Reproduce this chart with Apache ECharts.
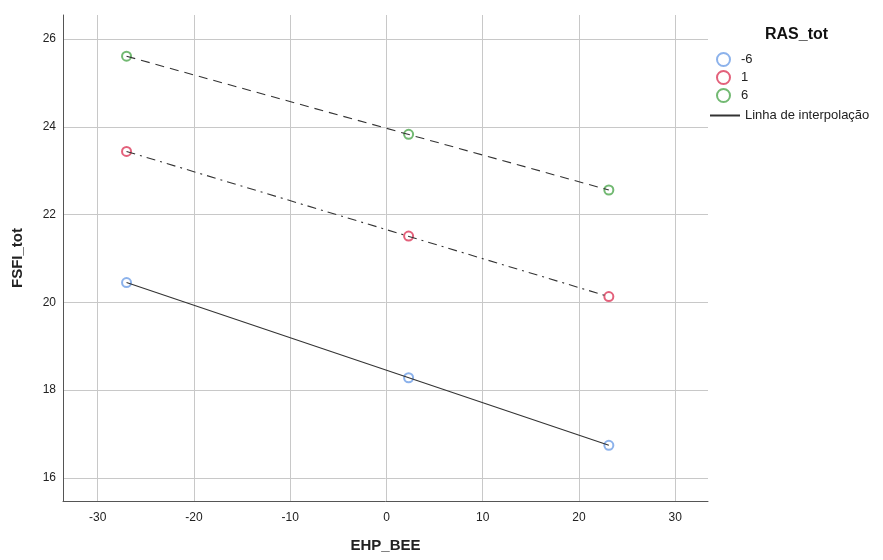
<!DOCTYPE html>
<html><head><meta charset="utf-8">
<script src="https://cdn.jsdelivr.net/npm/echarts@6/dist/echarts.min.js"></script>
<style>html,body{margin:0;padding:0;background:#fff}#c{width:883px;height:560px}</style>
</head><body><div id="c"></div>
<script>
const xValues = [-27, 2.3, 23.1];
const groups = ['-6', '1', '6'];
const fsfiNeg6 = [20.45, 18.28, 16.74];
const fsfi1 = [23.44, 21.51, 20.13];
const fsfi6 = [25.61, 23.83, 22.56];
const xTicks = [-30, -20, -10, 0, 10, 20, 30];
const yTicks = [16, 18, 20, 22, 24, 26];
const lineLabel = 'Linha de interpolação';

const colors = ['#6f9fe6', '#dc3a5a', '#4fa84f'];
const dashes = ['solid', [9, 5, 2, 5], [9, 6]];
const values = [fsfiNeg6, fsfi1, fsfi6];
const font = 'Liberation Sans, Arial, sans-serif';

const series = [];
values.forEach((v, i) => {
  series.push({
    name: groups[i], type: 'scatter', symbol: 'emptyCircle', symbolSize: 9,
    itemStyle: { color: colors[i], borderColor: colors[i], borderWidth: 1.3 },
    data: xValues.map((x, j) => [x, v[j]]), z: 2
  });
});
values.forEach((v, i) => {
  const n = xValues.length - 1;
  series.push({
    name: lineLabel, type: 'line', symbol: 'none', silent: true,
    lineStyle: { color: '#333', width: 1.1, type: dashes[i] },
    itemStyle: { color: '#333' },
    data: [[xValues[0], v[0]], [xValues[n], v[n]]], z: 3
  });
});

const chart = echarts.init(document.getElementById('c'));
chart.setOption({
  animation: false,
  backgroundColor: '#fff',
  textStyle: { fontFamily: font },
  title: { text: 'RAS_tot', left: 760, top: 22, textStyle: { fontFamily: font, fontSize: 16, fontWeight: 'bold', color: '#111' } },
  grid: { left: 63, right: 175, top: 15, bottom: 59, containLabel: false },
  legend: [{
    data: groups, orient: 'vertical', left: 716, top: 52, itemWidth: 13, itemHeight: 13, itemGap: 3,
    icon: 'emptyCircle', itemStyle: { borderWidth: 1.4 }, padding: 0,
    textStyle: { fontFamily: font, fontSize: 13, color: '#222', lineHeight: 13, padding: [0, 0, 0, 6] }, selectedMode: false
  }, {
    data: [{ name: lineLabel, itemStyle: { opacity: 0 } }], orient: 'vertical', left: 709, top: 109, itemWidth: 30, itemHeight: 12, padding: 0,
    textStyle: { fontFamily: font, fontSize: 13, color: '#222', lineHeight: 13 }, selectedMode: false
  }],
  xAxis: {
    type: 'value', min: -33.6, max: 33.4,
    name: 'EHP_BEE', nameLocation: 'middle', nameGap: 37,
    nameTextStyle: { fontFamily: font, fontSize: 15, fontWeight: 'bold', color: '#222' },
    axisLine: { show: true, onZero: false, lineStyle: { color: '#555', width: 1 } },
    axisTick: { show: false, customValues: xTicks },
    axisLabel: { customValues: xTicks, color: '#222', fontSize: 12, margin: 11, fontFamily: font },
    splitLine: { show: true, lineStyle: { color: '#c8c8c8', width: 1 } }
  },
  yAxis: {
    type: 'value', min: 15.47, max: 26.55,
    name: 'FSFI_tot', nameLocation: 'middle', nameGap: 38, nameRotate: 90,
    nameTextStyle: { fontFamily: font, fontSize: 15, fontWeight: 'bold', color: '#222' },
    axisLine: { show: true, onZero: false, lineStyle: { color: '#555', width: 1 } },
    axisTick: { show: false, customValues: yTicks },
    axisLabel: { customValues: yTicks, color: '#222', fontSize: 12, margin: 7, fontFamily: font },
    splitLine: { show: true, lineStyle: { color: '#c8c8c8', width: 1 } }
  },
  series: series
});
</script></body></html>
